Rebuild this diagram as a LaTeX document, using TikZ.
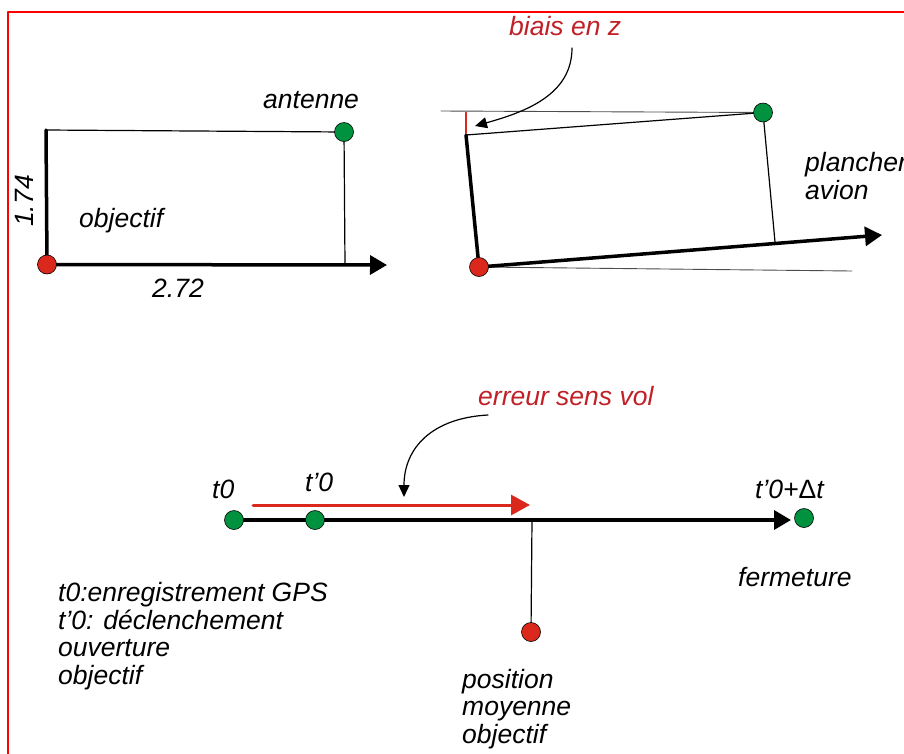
\documentclass[tikz,border=0pt]{standalone}
\usepackage{fontspec}
\setmainfont{Liberation Sans}
\usetikzlibrary{arrows.meta}
\definecolor{dotred}{RGB}{218,41,28}
\definecolor{dotgreen}{RGB}{0,146,63}
\definecolor{txtred}{RGB}{192,32,38}
\tikzset{
	dot/.style={circle,draw=black,line width=0.6pt,inner sep=0pt,minimum size=19pt},
	axe/.style={line width=3.5pt},
	fin/.style={line width=1.2pt},
	guide/.style={line width=0.9pt,black!70},
	bigtip/.style={-{Triangle[length=17pt,width=19pt]}},
	smalltip/.style={-{Triangle[length=12pt,width=11pt]}},
	lab/.style={font=\fontsize{26.5}{27.7}\selectfont\itshape,inner sep=0pt,align=left}
}
\begin{document}
\begin{tikzpicture}[x=1pt,y=-1pt, line join=round, line cap=round]
	\useasboundingbox (0,0) rectangle (904,753);
	\draw[red,line width=2.5pt] (8,760)--(8,12)--(910,12);
	% antenne / objectif, avion a plat
	\coordinate (obj1) at (47,264.5);
	\coordinate (ant1) at (344,132);
	\coordinate (c1) at (46,130);
	\coordinate (pied1) at (345,265);
	\coordinate (bout1) at (387,265);
	\draw[fin] (c1)--(ant1)--(pied1);
	\draw[axe] (c1)--(obj1);
	\draw[axe,bigtip] (obj1)--(bout1);
	\node[lab,anchor=base west] (l-ant) at (263,108) {antenne};
	\node[lab,anchor=base west] (l-obj) at (79,227.5) {objectif};
	\node[lab,anchor=base,rotate=90] (l-h) at (33,201) {1.74};
	\node[lab,anchor=base] (l-l) at (178,297.5) {2.72};
	% plancher incline
	\coordinate (obj2) at (479,267);
	\coordinate (ant2) at (763,112.5);
	\coordinate (c2) at (466,135);
	\coordinate (pied2) at (775,242);
	\coordinate (bout2) at (882,235);
	\draw[guide] (441,111)--(ant2);
	\draw[guide] (obj2)--(852,271);
	\draw[dotred,line width=2pt] (466,112.5)--(466,133);
	\draw[fin] (c2)--(ant2)--(pied2);
	\draw[axe] (c2)--(obj2);
	\draw[axe,bigtip] (obj2)--(bout2);
	\node[lab,text=txtred,anchor=base west] (l-biais) at (509,35) {biais en z};
	\draw[fin,smalltip] (572,48) .. controls (572,95) and (525,112) .. (475,126);
	\node[lab,anchor=base west] (l-plan) at (805,199.2) {plancher\\avion};
	% axe du temps
	\coordinate (tzero) at (234,520);
	\coordinate (tprime) at (315,520);
	\coordinate (tfin) at (804,518);
	\coordinate (posmoy) at (531,632);
	\coordinate (bout3) at (791,520);
	\draw[fin] (532,520)--(posmoy);
	\draw[axe,bigtip] (tzero)--(bout3);
	\draw[dotred,line width=3pt,-{Triangle[length=19pt,width=20pt]}] (253,505)--(530,505);
	\node[lab,text=txtred,anchor=base west] (l-err) at (478,405) {erreur sens vol};
	\draw[fin,smalltip] (488,415) .. controls (432,418) and (404,448) .. (404,497);
	\node[lab,anchor=base west] (l-t0) at (212,498.5) {t0};
	\node[lab,anchor=base west] (l-tp) at (305,491.5) {t’0};
	\node[lab,anchor=base west] (l-tf) at (755,498.5) {t’0+{\upshape Δ}t};
	\node[lab,anchor=base west] (l-ferm) at (738,586) {fermeture};
	\node[lab,anchor=base west] (l-leg) at (58,684.6) {t0:enregistrement GPS\\t’0: déclenchement\\ouverture\\objectif};
	\node[lab,anchor=base west] (l-pos) at (462,743.4) {position\\moyenne\\objectif};
	% points
	\foreach \p in {obj1,obj2,posmoy}
		\node[dot,fill=dotred] (d-\p) at (\p) {};
	\foreach \p in {ant1,ant2,tzero,tprime,tfin}
		\node[dot,fill=dotgreen] (d-\p) at (\p) {};
\end{tikzpicture}
\end{document}
